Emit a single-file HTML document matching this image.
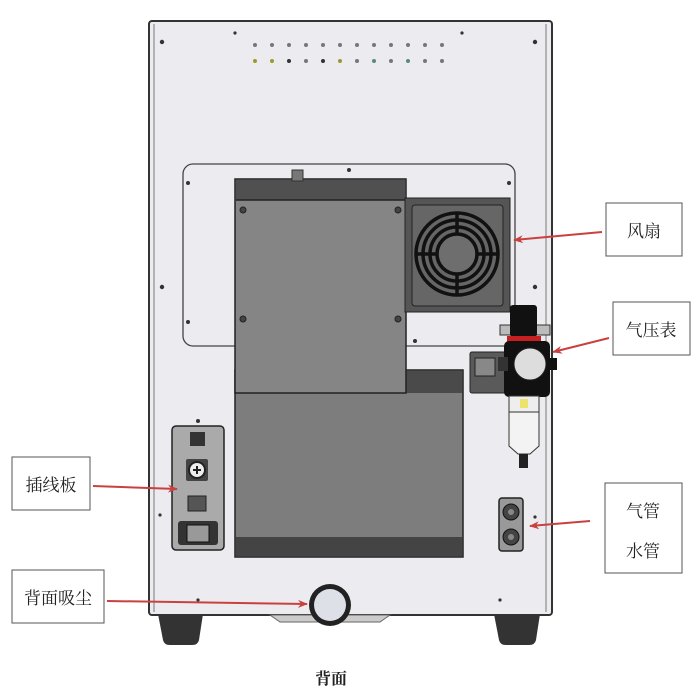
<!DOCTYPE html>
<html><head><meta charset="utf-8"><style>
html,body{margin:0;padding:0;background:#fff;width:700px;height:700px;overflow:hidden}
svg{display:block}
text{font-family:"Liberation Serif","Noto Serif CJK SC",serif;fill:#222}
</style></head><body>
<svg width="700" height="700" viewBox="0 0 700 700" xmlns="http://www.w3.org/2000/svg">
<defs>
<marker id="ah" markerWidth="10" markerHeight="8" refX="9" refY="4" orient="auto" markerUnits="userSpaceOnUse">
<path d="M0,0 L10,4 L0,8 L3,4 z" fill="#c9413f"/></marker>
</defs>
<!-- feet -->
<path d="M158,614 L203,614 L199,640 Q198,645 192,645 L170,645 Q164,645 163,640 z" fill="#333"/>
<path d="M494,614 L540,614 L536,640 Q535,645 529,645 L506,645 Q500,645 499,640 z" fill="#333"/>
<!-- cabinet -->
<rect x="149" y="21" width="403" height="594" rx="3" fill="#ececf0" stroke="#333" stroke-width="2"/>
<line x1="154" y1="24" x2="154" y2="612" stroke="#777" stroke-width="1"/>
<line x1="546" y1="24" x2="546" y2="612" stroke="#777" stroke-width="1"/>
<g fill="#333">
<circle cx="162" cy="42" r="2.2"/><circle cx="535" cy="42" r="2.2"/>
<circle cx="235" cy="33" r="1.6"/><circle cx="462" cy="33" r="1.6"/>
<circle cx="162" cy="287" r="2.2"/><circle cx="535" cy="287" r="2.2"/>
<circle cx="198" cy="600" r="1.6"/><circle cx="500" cy="600" r="1.6"/>
<circle cx="160" cy="515" r="1.6"/><circle cx="535" cy="517" r="1.6"/>
</g>
<g fill="#777">
<circle cx="255" cy="45" r="2"/><circle cx="272" cy="45" r="2"/><circle cx="289" cy="45" r="2"/><circle cx="306" cy="45" r="2"/><circle cx="323" cy="45" r="2"/><circle cx="340" cy="45" r="2"/><circle cx="357" cy="45" r="2"/><circle cx="374" cy="45" r="2"/><circle cx="391" cy="45" r="2"/><circle cx="408" cy="45" r="2"/><circle cx="425" cy="45" r="2"/><circle cx="442" cy="45" r="2"/>
<circle cx="255" cy="61" r="2" fill="#9a9a30"/><circle cx="272" cy="61" r="2" fill="#9a9a30"/><circle cx="289" cy="61" r="2" fill="#333"/><circle cx="306" cy="61" r="2"/><circle cx="323" cy="61" r="2" fill="#333"/><circle cx="340" cy="61" r="2" fill="#9a9a30"/><circle cx="357" cy="61" r="2"/><circle cx="374" cy="61" r="2" fill="#5a8a7a"/><circle cx="391" cy="61" r="2"/><circle cx="408" cy="61" r="2" fill="#5a8a7a"/><circle cx="425" cy="61" r="2"/><circle cx="442" cy="61" r="2"/>
</g>
<rect x="183" y="164" width="332" height="182" rx="10" fill="#ececf0" stroke="#444" stroke-width="1.3"/>
<g fill="#333"><circle cx="188" cy="183" r="2"/><circle cx="509" cy="183" r="2"/><circle cx="188" cy="322" r="2"/><circle cx="349" cy="170" r="2"/><circle cx="415" cy="341" r="2"/></g>
<rect x="235" y="370" width="228" height="187" fill="#7d7d7d" stroke="#222" stroke-width="1.5"/>
<rect x="236" y="537" width="226" height="19" fill="#444"/>
<rect x="406" y="371" width="56" height="22" fill="#4a4a4a"/>
<rect x="235" y="179" width="171" height="214" fill="#858585" stroke="#222" stroke-width="1.5"/>
<rect x="236" y="180" width="169" height="20" fill="#505050"/>
<line x1="236" y1="200" x2="405" y2="200" stroke="#222" stroke-width="1.5"/>
<rect x="292" y="170" width="11" height="11" fill="#777" stroke="#333"/>
<g fill="#444" stroke="#222"><circle cx="243" cy="210" r="3"/><circle cx="398" cy="210" r="3"/><circle cx="243" cy="319" r="3"/><circle cx="398" cy="319" r="3"/></g>
<!-- fan -->
<rect x="405" y="198" width="105" height="114" fill="#555" stroke="#222"/>
<rect x="412" y="205" width="91" height="101" rx="3" fill="#666" stroke="#222"/>
<g fill="none" stroke="#111" stroke-width="3.5">
<circle cx="457" cy="254" r="41"/><circle cx="457" cy="254" r="34"/><circle cx="457" cy="254" r="27"/><circle cx="457" cy="254" r="20"/>
<line x1="416" y1="254" x2="437" y2="254"/><line x1="477" y1="254" x2="498" y2="254"/><line x1="457" y1="213" x2="457" y2="234"/><line x1="457" y1="274" x2="457" y2="295"/>
</g>
<circle cx="457" cy="254" r="18" fill="#6e6e6e"/>
<rect x="470" y="352" width="36" height="41" rx="2" fill="#5a5a5a" stroke="#222"/>
<rect x="475" y="358" width="20" height="18" fill="#888" stroke="#222"/>
<rect x="500" y="325" width="50" height="10" fill="#bbb" stroke="#333"/>
<rect x="510" y="305" width="27" height="32" rx="3" fill="#111"/>
<rect x="507" y="336" width="34" height="6" fill="#c62020"/>
<rect x="504" y="341" width="46" height="56" rx="5" fill="#111"/>
<rect x="498" y="357" width="10" height="14" fill="#333"/>
<rect x="549" y="358" width="8" height="12" fill="#111"/>
<circle cx="530" cy="364" r="16" fill="#ddd" stroke="#222"/>
<rect x="509" y="396" width="30" height="16" fill="#eee" stroke="#333"/>
<rect x="520" y="399" width="8" height="9" fill="#eee36a"/>
<path d="M509,412 L539,412 L539,446 L530,454 L518,454 L509,446 z" fill="#f3f3f3" stroke="#333"/>
<rect x="519" y="454" width="9" height="14" fill="#222"/>
<circle cx="198" cy="421" r="2" fill="#333"/>
<rect x="172" y="426" width="52" height="124" rx="4" fill="#aaa" stroke="#222" stroke-width="1.5"/>
<rect x="190" y="432" width="15" height="14" fill="#333"/>
<rect x="186" y="459" width="22" height="22" rx="2" fill="#444"/>
<circle cx="197" cy="470" r="8" fill="#eee" stroke="#222" stroke-width="2"/>
<path d="M193,470 h8 M197,466 v8" stroke="#222" stroke-width="2"/>
<rect x="188" y="496" width="18" height="15" fill="#555" stroke="#222"/>
<rect x="178" y="521" width="40" height="24" rx="3" fill="#333"/>
<rect x="187" y="525" width="22" height="17" fill="#999" stroke="#111"/>
<rect x="499" y="498" width="24" height="53" rx="3" fill="#999" stroke="#222" stroke-width="1.5"/>
<circle cx="511" cy="512" r="8" fill="#444" stroke="#111"/><circle cx="511" cy="512" r="3" fill="#888"/>
<circle cx="511" cy="537" r="8" fill="#444" stroke="#111"/><circle cx="511" cy="537" r="3" fill="#888"/>
<path d="M270,615 L390,615 L380,622 L280,622 z" fill="#ccc" stroke="#666"/>
<circle cx="330" cy="605" r="21" fill="#222"/>
<circle cx="330" cy="605" r="16" fill="#dde0e6"/>
<g fill="#fff" stroke="#555" stroke-width="1">
<rect x="606" y="203" width="76" height="53"/>
<rect x="613" y="302" width="77" height="53"/>
<rect x="12" y="457" width="78" height="53"/>
<rect x="12" y="570" width="92" height="53"/>
<rect x="605" y="483" width="77" height="90"/>
</g>
<g font-size="17">
<text x="644" y="237" text-anchor="middle">风扇</text>
<text x="651" y="336" text-anchor="middle">气压表</text>
<text x="51" y="491" text-anchor="middle">插线板</text>
<text x="58" y="604" text-anchor="middle">背面吸尘</text>
<text x="643" y="517" text-anchor="middle">气管</text>
<text x="643" y="557" text-anchor="middle">水管</text>
<text x="331" y="684" text-anchor="middle" font-weight="bold" font-size="16">背面</text>
</g>
<g stroke="#c9413f" stroke-width="2" fill="none" marker-end="url(#ah)">
<line x1="602" y1="232" x2="514" y2="240"/>
<line x1="609" y1="338" x2="553" y2="352"/>
<line x1="93" y1="486" x2="177" y2="489"/>
<line x1="107" y1="601" x2="307" y2="604"/>
<line x1="590" y1="521" x2="530" y2="526"/>
</g>
</svg>
</body></html>
